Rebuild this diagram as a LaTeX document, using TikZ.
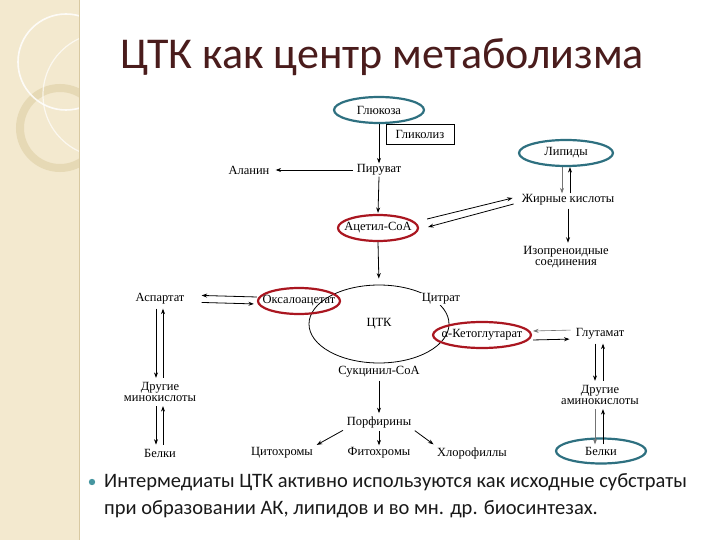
\documentclass[tikz,border=0pt]{standalone}
\usepackage{fontspec}
\setmainfont{Liberation Serif}
\newfontfamily\slidefont{Carlito}
\usetikzlibrary{arrows.meta,shapes.geometric}
\definecolor{ovteal}{RGB}{46,112,128}
\definecolor{ovred}{RGB}{170,22,32}
\definecolor{stripbg}{RGB}{243,233,207}
\definecolor{stripline}{RGB}{216,201,162}
\definecolor{ringcol}{RGB}{230,217,181}
\definecolor{titlecol}{RGB}{74,28,28}
\definecolor{bulletcol}{RGB}{70,150,160}
\newcommand{\fixw}[1]{\makebox[0pt]{#1}}
\begin{document}
\begin{tikzpicture}[x=1pt,y=-1pt,
  lbl/.style={font=\fontsize{12.5}{12}\selectfont, inner sep=1pt, align=center},
  twol/.style={lbl, font=\fontsize{12.5}{11.5}\selectfont},
  tealov/.style={ellipse, draw=ovteal, line width=2.2pt, inner sep=0pt, font=\fontsize{12.5}{12}\selectfont},
  redov/.style={ellipse, draw=ovred, line width=2.2pt, inner sep=0pt, font=\fontsize{12.5}{12}\selectfont},
  arr/.style={-{Stealth[length=5.5pt,width=4pt]}, line width=0.8pt},
  garr/.style={arr, draw=black!55}]
\useasboundingbox (0,0) rectangle (720,540);
% background strip
\fill[white] (0,0) rectangle (720,540);
\begin{scope}
  \clip (0,0) rectangle (79,540);
  \fill[stripbg] (0,0) rectangle (79,540);
  \draw[ringcol, line width=8pt] (60,128) circle[radius=40];
  \draw[white, line width=1.6pt, opacity=0.85] (66,62) circle[radius=48];
  \draw[white, line width=1.2pt, opacity=0.7] (105,95) circle[radius=62];
\end{scope}
\draw[stripline, line width=1pt] (79,0) -- (79,540);
% title
\node[font=\slidefont\fontsize{44}{48}\selectfont, text=titlecol] (title) at (382,57) {ЦТК как центр метаболизма};
% top part
\node[tealov, minimum width=90, minimum height=26] (glu) at (379,110) {\fixw{Глюкоза}};
\node[draw, line width=0.8pt, minimum width=68, minimum height=20, inner sep=0pt, lbl] (gly) at (420,134) {Гликолиз};
\node[lbl] (pyr) at (379,170) {Пируват};
\node[lbl] (ala) at (249,170) {Аланин};
\node[redov, minimum width=80, minimum height=26] (acoa) at (378,228) {\fixw{Ацетил-CoA}};
\node[tealov, minimum width=94, minimum height=26] (lip) at (566,153) {\fixw{Липиды}};
\node[lbl] (fa) at (568,200) {Жирные кислоты};
\node[twol] (iso) at (566,257) {Изопреноидные\\соединения};
% cycle
\node[ellipse, draw, line width=0.8pt, minimum width=140, minimum height=78, lbl] (tca) at (379,324) {ЦТК};
\node[lbl, fill=white] (cit) at (441,299) {Цитрат};
\node[redov, minimum width=82, minimum height=26] (oaa) at (299,301) {\fixw{Оксалоацетат}};
\node[redov, minimum width=98, minimum height=26] (akg) at (482,335) {\fixw{α-Кетоглутарат}};
\node[lbl] (scoa) at (379,372) {Сукцинил-CoA};
\node[lbl] (glut) at (600,334) {Глутамат};
\node[lbl] (asp) at (160,299) {Аспартат};
\node[twol] (oth1) at (160,392) {Другие\\минокислоты};
\node[lbl] (bel1) at (160,453) {Белки};
\node[twol] (oth2) at (600,395) {Другие\\аминокислоты};
\node[tealov, minimum width=90, minimum height=25] (bel2) at (601,451) {\fixw{Белки}};
\node[lbl] (por) at (379,422) {Порфирины};
\node[lbl] (cyt) at (282,453) {Цитохромы};
\node[lbl] (phy) at (379,453) {Фитохромы};
\node[lbl] (chl) at (472,453) {Хлорофиллы};
% connectors
\draw[arr] (glu.south) -- (pyr.north);
\draw[arr, shorten <=3pt, shorten >=5pt] (pyr.west) -- (ala.east);
\draw[arr, shorten >=1pt] (pyr.south) -- (acoa.north);
\draw[arr, shorten >=6pt] (acoa.south) -- (tca.north);
\draw[arr] ([xshift=8pt,yshift=9pt]acoa.east) -- ([xshift=-8pt,yshift=2pt]fa.west);
\draw[arr] ([xshift=-7pt,yshift=-4pt]fa.west) -- ([xshift=9pt,yshift=1pt]acoa.east);
\draw[garr] ([xshift=-4pt]lip.south) -- ([xshift=-6pt]fa.north);
\draw[arr] ([xshift=2pt]fa.north) -- ([xshift=4pt]lip.south);
\draw[arr, shorten <=2pt, shorten >=2pt] (fa.south) -- ([xshift=2pt]iso.north);
\draw[arr, shorten >=16pt] ([yshift=4pt]oaa.west) -- ([yshift=4pt]asp.east);
\draw[arr, shorten <=16pt, shorten >=3pt] ([yshift=-3pt]asp.east) -- ([yshift=-3pt]oaa.west);
\draw[arr, shorten <=3pt, shorten >=3pt] ([xshift=-4pt]asp.south) -- ([xshift=-4pt]oth1.north);
\draw[arr, shorten <=3pt, shorten >=3pt] ([xshift=3pt]oth1.north) -- ([xshift=3pt]asp.south);
\draw[arr, shorten <=3pt, shorten >=3pt] ([xshift=-4pt]oth1.south) -- ([xshift=-4pt]bel1.north);
\draw[arr, shorten <=3pt, shorten >=3pt] ([xshift=3pt]bel1.north) -- ([xshift=3pt]oth1.south);
\draw[garr, line width=0.6pt, shorten <=4pt, shorten >=1pt] ([yshift=4pt]glut.west) -- ([yshift=4pt]akg.east);
\draw[arr, shorten <=1pt, shorten >=5pt] ([yshift=-5pt]akg.east) -- ([yshift=-5pt]glut.west);
\draw[arr, shorten <=3pt, shorten >=3pt] ([xshift=-5pt]glut.south) -- ([xshift=-5pt]oth2.north);
\draw[arr, shorten <=3pt, shorten >=3pt] ([xshift=3pt]oth2.north) -- ([xshift=3pt]glut.south);
\draw[garr, shorten <=3pt] ([xshift=-5pt]oth2.south) -- ([xshift=-6pt,yshift=-7pt]bel2.north);
\draw[arr, shorten >=3pt] ([xshift=2pt,yshift=-7pt]bel2.north) -- ([xshift=3pt]oth2.south);
\draw[arr, shorten <=2pt, shorten >=2pt] (scoa.south) -- (por.north);
\draw[arr, shorten <=2pt, shorten >=1pt] (por.south) -- (phy.north);
\draw[arr, shorten <=3pt, shorten >=3pt] (por.south west) -- (cyt.north east);
\draw[arr, shorten <=3pt, shorten >=3pt] (por.south east) -- (chl.north west);
% bullet text
\fill[bulletcol] (92,482) circle[radius=3.2] coordinate (bul);
\node[anchor=west, font=\slidefont\fontsize{20.5}{27}\selectfont, text=black!90, align=left, inner sep=0pt] (txt) at (104,496)
  {Интермедиаты ЦТК активно используются как исходные субстраты\\при образовании АК, липидов и во мн. др. биосинтезах.};
\end{tikzpicture}
\end{document}
